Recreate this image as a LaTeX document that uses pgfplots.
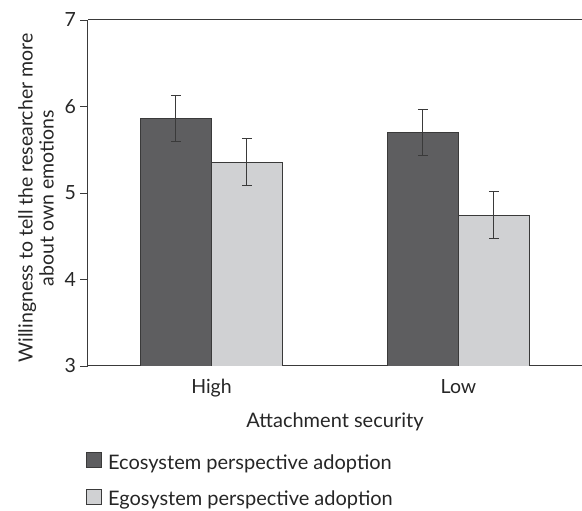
\documentclass[border=0pt]{standalone}
\usepackage{pgfplots}
\pgfplotsset{compat=1.18}
\usepackage{fontspec}
\setmainfont{Lato}
\definecolor{darkbar}{HTML}{5E5E60}
\definecolor{lightbar}{HTML}{D0D1D3}
\definecolor{edge}{HTML}{3A3A3A}
\begin{document}
\begin{tikzpicture}
\useasboundingbox (-88pt,-145pt) rectangle (494pt,366pt);
\begin{axis}[
  at={(0,0)}, anchor=south west,
  scale only axis,
  width=494pt, height=346pt,
  xmin=-0.5, xmax=1.5,
  ymin=3, ymax=7,
  ytick={3,4,5,6,7},
  xtick={0,1},
  xticklabels={High,Low},
  axis x line*=bottom,
  axis y line*=left,
  x axis line style={-, line width=1pt, draw=edge},
  y axis line style={-, line width=1pt, draw=edge},
  every tick/.style={draw=edge, line width=0.8pt},
  major x tick style={draw=none},
  major tick length=7.5pt,
  ytick align=outside,
  tick label style={font=\fontsize{19.5}{22}\selectfont, text=black!85},
  /pgf/number format/assume math mode=true,
  yticklabel style={xshift=-1pt},
  xticklabel style={yshift=-2pt},
  ybar=0pt,
  bar width=71pt,
  xlabel={Attachment security},
  xlabel style={font=\fontsize{20}{22}\selectfont, text=black!85, yshift=-9pt},
  ylabel={Willingness to tell the researcher more\\about own emotions},
  ylabel style={font=\fontsize{19.5}{21}\selectfont, text=black!85, align=center, yshift=4pt, xshift=-5pt},
  legend style={at={(0,-0.2435)}, anchor=north west, draw=none, fill=none,
    font=\fontsize{20}{22}\selectfont, text=black!85, row sep=16pt,
    xshift=-5pt, nodes={inner sep=2pt}},
  legend cell align=left,
  legend image code/.code={\draw[#1, draw=edge, line width=0.8pt] (0pt,-5pt) rectangle (15pt,10pt); \path (19pt,0pt);},
  error bars/error bar style={draw=edge, line width=1pt},
  error bars/error mark options={rotate=90, mark size=5pt, line width=1pt, draw=edge},
]
\addplot[fill=darkbar, draw=edge, line width=0.9pt,
  error bars/.cd, y dir=both, y explicit]
  coordinates {(0,5.86) +- (0,0.27) (1,5.70) +- (0,0.27)};
\addplot[fill=lightbar, draw=edge, line width=0.9pt,
  error bars/.cd, y dir=both, y explicit]
  coordinates {(0,5.355) +- (0,0.27) (1,4.745) +- (0,0.27)};
\legend{Ecosystem perspective adoption, Egosystem perspective adoption}
\draw[edge, line width=1pt] (rel axis cs:0,1) -- (rel axis cs:1,1);
\end{axis}
\end{tikzpicture}
\end{document}
